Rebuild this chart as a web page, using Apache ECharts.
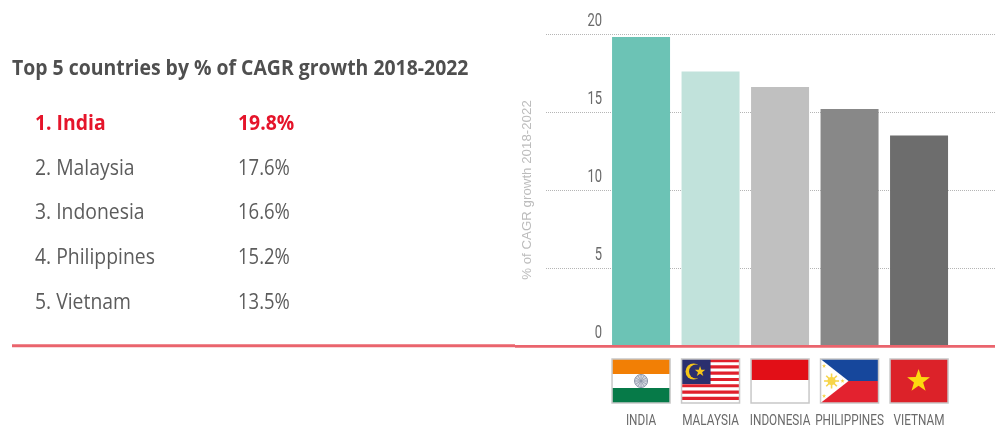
<!DOCTYPE html>
<html>
<head>
<meta charset="utf-8">
<style>html,body{margin:0;padding:0;background:#fff}#c{width:995px;height:427px}</style>
<script src="https://cdn.jsdelivr.net/npm/echarts@6/dist/echarts.min.js"></script>
</head>
<body>
<div id="c"></div>
<script>
// Chart data
const countries = ['India', 'Malaysia', 'Indonesia', 'Philippines', 'Vietnam'];
const axisNames = ['INDIA', 'MALAYSIA', 'INDONESIA', 'PHILIPPINES', 'VIETNAM'];
const cagr = [19.8, 17.6, 16.6, 15.2, 13.5];
const yTicks = [0, 5, 10, 15, 20];
const barColors = ['#6cc3b5', '#c1e2db', '#c0c0c0', '#888888', '#6d6d6d'];
const titleText = 'Top 5 countries by % of CAGR growth 2018-2022';
const axisTitle = '% of CAGR growth 2018-2022';

const plotTop = 34, plotHeight = 312;

const chart = echarts.init(document.getElementById('c'), null, {renderer: 'canvas'});

chart.setOption({
  animation: false,
  backgroundColor: '#ffffff',
  grid: [
    {left: 546, right: 0, top: plotTop, height: plotHeight},
    {left: 606.3, width: 347.5, top: plotTop, height: plotHeight}
  ],
  xAxis: [
    {gridIndex: 0, type: 'value', show: false, min: 0, max: 1},
    {
      gridIndex: 1, type: 'category', data: axisNames,
      axisLine: {show: false}, axisTick: {show: false}, axisLabel: {show: false}
    }
  ],
  yAxis: [
    {
      gridIndex: 0, type: 'value', min: 0, max: 20, interval: 5,
      axisLine: {show: false}, axisTick: {show: false}, axisLabel: {show: false},
      splitLine: {show: true, lineStyle: {color: '#b5b5b5', width: 1, type: [1, 1]}}
    },
    {
      gridIndex: 1, type: 'value', min: 0, max: 20, interval: 5,
      axisLine: {show: false}, axisTick: {show: false}, splitLine: {show: false},
      axisLabel: {show: false},
      name: axisTitle, nameLocation: 'middle', nameGap: 72, nameRotate: 90,
      nameTextStyle: {color: '#bcbcbc', fontFamily: '"Liberation Sans", sans-serif', fontSize: 13.3}
    }
  ],
  series: [{
    type: 'bar', xAxisIndex: 1, yAxisIndex: 1, barWidth: 58,
    data: cagr.map((v, i) => ({value: v, itemStyle: {color: barColors[i]}}))
  }]
});

// Five-pointed star as polygon points around (cx, cy)
function star(cx, cy, r, fill) {
  const pts = [];
  for (let i = 0; i < 10; i++) {
    const a = -Math.PI / 2 + i * Math.PI / 5, q = i % 2 ? r * 0.4 : r;
    pts.push([cx + q * Math.cos(a), cy + q * Math.sin(a)]);
  }
  return {type: 'polygon', shape: {points: pts}, style: {fill}};
}
const box = (x, y, width, height, fill) => ({type: 'rect', shape: {x, y, width, height}, style: {fill}});

// Flags are drawn in a 58x44 local box
const W = 58, H = 44;
const flagArt = {
  India() {
    const spokes = [];
    for (let i = 0; i < 12; i++) {
      const a = i * Math.PI / 6;
      spokes.push({type: 'line', shape: {x1: 29, y1: 22, x2: 29 + 6.5 * Math.cos(a), y2: 22 + 6.5 * Math.sin(a)}, style: {stroke: '#8a93a8', lineWidth: 0.7}});
    }
    return [
      box(0, 0, W, 15, '#f27f05'), box(0, 15, W, 14, '#ffffff'), box(0, 29, W, 15, '#067a48'),
      {type: 'circle', shape: {cx: 29, cy: 22, r: 6.5}, style: {fill: '#d5d8e0', stroke: '#8a93a8', lineWidth: 1}},
      ...spokes
    ];
  },
  Malaysia() {
    const parts = [box(0, 0, W, H, '#ffffff')];
    for (let i = 0; i < 7; i++) parts.push(box(0, i * 6.3, W, 3.15, '#e0202c'));
    parts.push(box(0, 0, 29, 25, '#2b2f6e'));
    parts.push({type: 'circle', shape: {cx: 12, cy: 12.5, r: 8}, style: {fill: '#f5c518'}});
    parts.push({type: 'circle', shape: {cx: 14.5, cy: 12.5, r: 7}, style: {fill: '#2b2f6e'}});
    parts.push(star(18.5, 12.5, 5.5, '#f5c518'));
    return parts;
  },
  Indonesia() {
    return [box(0, 0, W, 21, '#e20f17'), box(0, 21, W, 23, '#ffffff')];
  },
  Philippines() {
    const rays = [];
    for (let i = 0; i < 8; i++) {
      const a = i * Math.PI / 4;
      rays.push({type: 'line', shape: {x1: 11, y1: 22, x2: 11 + 7.5 * Math.cos(a), y2: 22 + 7.5 * Math.sin(a)}, style: {stroke: '#f7d54a', lineWidth: 1.6}});
    }
    return [
      box(0, 0, W, 22, '#16479c'), box(0, 22, W, 22, '#e3222f'),
      {type: 'polygon', shape: {points: [[0, 0], [28, 22], [0, 44]]}, style: {fill: '#ffffff'}},
      ...rays,
      {type: 'circle', shape: {cx: 11, cy: 22, r: 4}, style: {fill: '#f7d54a'}},
      star(3.5, 7, 2.2, '#f7d54a'), star(3.5, 37, 2.2, '#f7d54a'), star(22, 22, 2.2, '#f7d54a')
    ];
  },
  Vietnam() {
    return [box(0, 0, W, H, '#dc2229'), star(28.5, 22, 12, '#fdd90f')];
  }
};

const rowY = [122, 167, 211, 256, 301];
const graphics = [];

// Heading and ranking table on the left
graphics.push({
  type: 'text', x: 12, y: 69, scaleX: 0.903, silent: true,
  style: {text: titleText, font: 'bold 21.5px "Open Sans", sans-serif', fill: '#4f4f4f', verticalAlign: 'middle'}
});
countries.forEach((name, i) => {
  const lead = i === 0;
  const font = (lead ? 'bold ' : '') + '22px "Open Sans", sans-serif';
  const fill = lead ? '#e5142a' : '#5c5c5c';
  graphics.push({type: 'text', x: 35, y: rowY[i] + 1.5, scaleX: 0.88, silent: true,
    style: {text: (i + 1) + '. ' + name, font, fill, verticalAlign: 'middle'}});
  graphics.push({type: 'text', x: 238, y: rowY[i] + 1.5, scaleX: lead ? 0.88 : 0.84, silent: true,
    style: {text: cagr[i].toFixed(1) + '%', font, fill, verticalAlign: 'middle'}});
});

// Baseline rule, in two slightly offset pieces
graphics.push({type: 'rect', z: 50, shape: {x: 12, y: 344.2, width: 503, height: 3}, style: {fill: '#ea646d'}});
graphics.push({type: 'rect', z: 50, shape: {x: 515, y: 345, width: 480, height: 2.7}, style: {fill: '#ea646d'}});

// Tall narrow value labels above each gridline
yTicks.forEach(t => {
  const py = chart.convertToPixel({yAxisIndex: 1}, t);
  graphics.push({type: 'text', x: 602, y: py - 13, scaleX: 0.72, silent: true,
    style: {text: String(t), font: '18px Roboto, sans-serif', fill: '#6a6a6a', align: 'right', verticalAlign: 'middle'}});
});

// Flags and country names centred under each bar
countries.forEach((name, i) => {
  const cx = chart.convertToPixel({xAxisIndex: 1}, axisNames[i]);
  graphics.push({
    type: 'group', x: cx - W / 2, y: 359,
    children: [
      ...flagArt[name](),
      {type: 'rect', shape: {x: 0, y: 0, width: W, height: H}, style: {fill: 'none', stroke: '#c8c8c8', lineWidth: 1.5}}
    ]
  });
  graphics.push({type: 'text', x: cx, y: 421, scaleX: 0.76, silent: true,
    style: {text: axisNames[i], font: '15.5px Roboto, sans-serif', fill: '#6a6a6a', align: 'center', verticalAlign: 'middle'}});
});

chart.setOption({graphic: {elements: graphics}});
</script>
</body>
</html>
